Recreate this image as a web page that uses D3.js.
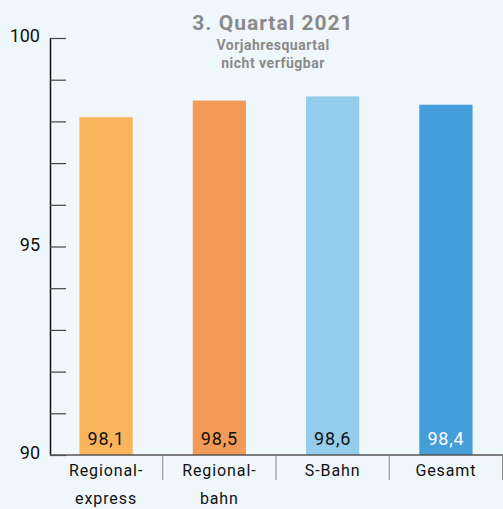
<!DOCTYPE html>
<html>
<head>
<meta charset="utf-8">
<script src="https://cdn.jsdelivr.net/npm/d3@7"></script>
<style>
  body { margin: 0; background: #f0f7fb; }
  svg { display: block; font-family: Roboto, 'DejaVu Sans', sans-serif; }
</style>
</head>
<body>
<div id="chart"></div>
<script>
const categories = [['Regional-', 'express'], ['Regional-', 'bahn'], ['S-Bahn'], ['Gesamt']]
const values = [98.1, 98.5, 98.6, 98.4]
const labels = ['98,1', '98,5', '98,6', '98,4']
const colors = ['#f9b45c', '#f39a56', '#94cdeb', '#439ed9']
const labelColors = ['#111', '#111', '#111', '#ffffff']
const yTicks = [90, 91, 92, 93, 94, 95, 96, 97, 98, 99, 100]
const yTickLabels = [90, 95, 100]

const width = 503
const height = 509
const margin = { top: 38, left: 50, right: 0, bottom: 54 }

const svg = d3
  .select('#chart')
  .append('svg')
  .attr('width', width)
  .attr('height', height)

svg.append('rect').attr('width', width).attr('height', height).attr('fill', '#f0f7fb')

const xPositionScale = d3
  .scaleBand()
  .domain(d3.range(categories.length))
  .range([margin.left, width - 1])
  .paddingInner(0.53)
  .paddingOuter(0.26)

const yPositionScale = d3
  .scaleLinear()
  .domain([90, 100])
  .range([height - margin.bottom, margin.top])

// bars
svg
  .selectAll('.bar')
  .data(values)
  .enter()
  .append('rect')
  .attr('class', 'bar')
  .attr('x', (d, i) => xPositionScale(i))
  .attr('y', d => yPositionScale(d))
  .attr('width', xPositionScale.bandwidth())
  .attr('height', d => yPositionScale(90) - yPositionScale(d))
  .attr('fill', (d, i) => colors[i])

// value labels
svg
  .selectAll('.value')
  .data(labels)
  .enter()
  .append('text')
  .attr('class', 'value')
  .text(d => d)
  .attr('x', (d, i) => xPositionScale(i) + xPositionScale.bandwidth() / 2)
  .attr('y', yPositionScale(90) - 10)
  .attr('text-anchor', 'middle')
  .attr('font-size', 18)
  .attr('letter-spacing', 0.8)
  .attr('font-weight', 400)
  .attr('fill', (d, i) => labelColors[i])

// y axis
const yAxis = d3.axisRight(yPositionScale).tickValues(yTicks).tickSize(16).tickFormat('')
svg
  .append('g')
  .attr('class', 'axis y-axis')
  .attr('transform', 'translate(' + margin.left + ',0)')
  .call(yAxis)
  .call(g => g.select('.domain').attr('d', 'M0.5,' + yPositionScale(100) + 'V' + yPositionScale(90)).attr('stroke', '#111').attr('stroke-width', 1.5))
  .call(g => g.selectAll('.tick line').attr('stroke', '#444').attr('stroke-width', 1.2))

svg
  .selectAll('.ylabel')
  .data(yTickLabels)
  .enter()
  .append('text')
  .attr('class', 'ylabel')
  .text(d => d)
  .attr('x', 40)
  .attr('y', d => yPositionScale(d) - 2)
  .attr('dy', '0.35em')
  .attr('text-anchor', 'end')
  .attr('font-size', 18)
  .attr('font-weight', 400)
  .attr('fill', '#111')

// x axis baseline and separators
const base = yPositionScale(90)
svg
  .append('line')
  .attr('x1', margin.left)
  .attr('x2', width)
  .attr('y1', base)
  .attr('y2', base)
  .attr('stroke', '#555')
  .attr('stroke-width', 1.5)

const step = xPositionScale.step()
svg
  .selectAll('.sep')
  .data(d3.range(categories.length))
  .enter()
  .append('line')
  .attr('class', 'sep')
  .attr('x1', (d, i) => xPositionScale(i) + xPositionScale.bandwidth() / 2 + step / 2)
  .attr('x2', (d, i) => xPositionScale(i) + xPositionScale.bandwidth() / 2 + step / 2)
  .attr('y1', base)
  .attr('y2', base + 25)
  .attr('stroke', '#888')
  .attr('stroke-width', 1)

// category labels
const catText = svg
  .selectAll('.cat')
  .data(categories)
  .enter()
  .append('text')
  .attr('class', 'cat')
  .attr('text-anchor', 'middle')
  .attr('font-size', 16)
  .attr('letter-spacing', 0.9)
  .attr('font-weight', 400)
  .attr('fill', '#111')

catText
  .selectAll('tspan')
  .data((d, i) => d.map(line => ({ line, i })))
  .enter()
  .append('tspan')
  .attr('x', d => xPositionScale(d.i) + xPositionScale.bandwidth() / 2)
  .attr('y', (d, j) => base + 21 + j * 28)
  .text(d => d.line)

// title
svg
  .append('text')
  .text('3. Quartal 2021')
  .attr('x', 273)
  .attr('y', 30)
  .attr('text-anchor', 'middle')
  .attr('font-size', 21)
  .attr('letter-spacing', 1)
  .attr('font-weight', 700)
  .attr('fill', '#8a8a8a')

svg
  .append('text')
  .attr('text-anchor', 'middle')
  .attr('font-size', 14)
  .attr('letter-spacing', 0.5)
  .attr('font-weight', 700)
  .attr('fill', '#8a8a8a')
  .selectAll('tspan')
  .data(['Vorjahresquartal', 'nicht verfügbar'])
  .enter()
  .append('tspan')
  .attr('x', 273)
  .attr('y', (d, i) => 50 + i * 18)
  .text(d => d)
</script>
</body>
</html>
